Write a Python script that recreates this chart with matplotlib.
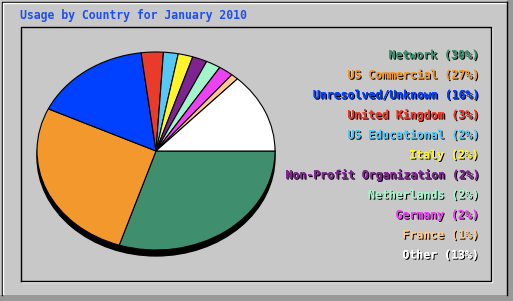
import matplotlib
matplotlib.use("Agg")
import matplotlib.pyplot as plt
import matplotlib.patheffects as pe
from matplotlib.patches import Rectangle, Ellipse

# Datos del gráfico
countries = ["Network", "US Commercial", "Unresolved/Unknown", "United Kingdom",
             "US Educational", "Italy", "Non-Profit Organization", "Netherlands",
             "Germany", "France", "Other"]
percent = [30, 27, 16, 3, 2, 2, 2, 2, 2, 1, 13]
colors = ["#3F8F6F", "#F2982C", "#0040FF", "#EA3A2A", "#55C8F5", "#FFF52A",
          "#7F2391", "#A2F5CA", "#EC43F2", "#FFC888", "#FFFFFF"]
title = "Usage by Country for January 2010"

W, H = 513, 301
fig = plt.figure(figsize=(W / 100, H / 100), dpi=100)
fig.patch.set_facecolor("#C8C8C8")

# Eje de fondo en píxeles para marcos y textos
bg = fig.add_axes([0, 0, 1, 1])
bg.set_xlim(0, W)
bg.set_ylim(H, 0)
bg.axis("off")

# Marco exterior con efecto 3D
bg.add_patch(Rectangle((507, 0), 6, H, color="#999999", lw=0))
bg.add_patch(Rectangle((0, 295), W, 6, color="#999999", lw=0))
bg.plot([1.5, 1.5, 507], [295, 1.5, 1.5], color="black", lw=1)
bg.plot([3, 3, 506], [294, 3, 3], color="white", lw=1)
bg.plot([506.5, 506.5], [1.5, 295], color="black", lw=1)

# Marco interior (grabado)
bg.plot([21.5, 491.5, 491.5], [281.5, 281.5, 27.5], color="white", lw=1)
bg.plot([20.5, 20.5, 490.5, 490.5, 20.5], [280.5, 26.5, 26.5, 280.5, 280.5],
        color="black", lw=1)

bg.text(20, 16, title, color="#1E4FF0", fontsize=8.3, family="DejaVu Sans Mono",
        fontweight="bold", va="center", ha="left")

# Etiquetas con sombra
for i, (name, p, c) in enumerate(zip(countries, percent, colors)):
    bg.text(478, 55 + 20 * i, f"{name} ({p}%)", color=c, fontsize=8.3,
            family="DejaVu Sans Mono", fontweight="bold", ha="right", va="center",
            path_effects=[pe.withSimplePatchShadow(offset=(0.8, -0.8),
                                                   shadow_rgbFace="black", alpha=1),
                          pe.Normal()])

# Pastel elíptico
ax = fig.add_axes([37 / W, (H - 250) / H, 238 / W, 198 / H])
ax.set_xlim(-1, 1)
ax.set_ylim(-1, 1)
ax.axis("off")
ax.add_patch(Ellipse((0, -0.06), 2, 2, color="black", zorder=0, clip_on=False))
wedges, _ = ax.pie(percent, colors=colors, startangle=0, counterclock=False,
                   radius=1, frame=True,
                   wedgeprops=dict(edgecolor="black", linewidth=0.8))
for w in wedges:
    w.set_clip_on(False)
ax.set_aspect("auto")
ax.set_xlim(-1, 1)
ax.set_ylim(-1, 1)
ax.axis("off")

plt.savefig("out.png", dpi=100, facecolor=fig.get_facecolor())
